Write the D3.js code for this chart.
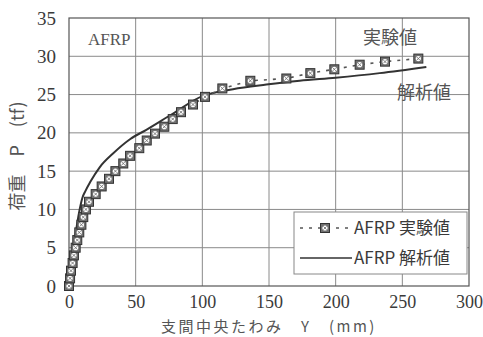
<!DOCTYPE html>
<html>
<head>
<meta charset="utf-8">
<script src="https://cdn.jsdelivr.net/npm/d3@7"></script>
<style>
  html, body { margin: 0; padding: 0; background: #fff; }
  svg { display: block; }
</style>
</head>
<body>
<svg id="chart" width="483" height="337"></svg>
<script>
// Measured load-deflection data for the AFRP-strengthened beam
const expDeflection = [0, 0.8, 1.5, 2.7, 3.7, 5.0, 6.2, 7.7, 9.3, 10.7, 12.7, 15, 20, 24.5, 30, 34.8,
  40.7, 45.8, 52.7, 58.3, 64.5, 71.5, 77.8, 84, 93, 102, 115, 136, 163, 181, 199, 218, 237, 262];
const expLoad = [0, 1, 2, 3, 4, 5, 6, 7, 8, 9, 10, 11, 12, 13, 14, 15,
  16, 17, 18, 19, 19.9, 20.8, 21.8, 22.7, 23.7, 24.7, 25.8, 26.8, 27.1, 27.8, 28.3, 28.9, 29.3, 29.7];

// Analytical curve
const anaDeflection = [0, 3.5, 8, 10, 12, 16, 23, 33, 46, 58, 76, 100, 123, 148, 173, 200, 233, 268];
const anaLoad = [0, 5, 10, 11.5, 12.3, 13.6, 15.5, 17.3, 19.2, 20.4, 22.3, 24.8, 25.7, 26.3, 26.8, 27.2, 27.8, 28.6];

const xTicks = [0, 50, 100, 150, 200, 250, 300];
const yTicks = [0, 5, 10, 15, 20, 25, 30, 35];

const serif = "Liberation Serif";
const cjk = "Noto Sans CJK JP";
const ink = "#3a3a3a";

const svg = d3.select("#chart");
const x = d3.scaleLinear().domain([0, 300]).range([69, 469]);
const y = d3.scaleLinear().domain([0, 35]).range([286, 18]);

// grid
const grid = svg.append("g").attr("stroke", "#8a8a8a").attr("stroke-width", 1);
grid.selectAll("line.v").data(xTicks.slice(1, -1)).join("line")
  .attr("x1", d => x(d)).attr("x2", d => x(d)).attr("y1", y(0)).attr("y2", y(35));
grid.selectAll("line.h").data(yTicks.slice(1, -1)).join("line")
  .attr("x1", x(0)).attr("x2", x(300)).attr("y1", d => y(d)).attr("y2", d => y(d));

// frame
svg.append("rect").attr("x", x(0)).attr("y", y(35))
  .attr("width", x(300) - x(0)).attr("height", y(0) - y(35))
  .attr("fill", "none").attr("stroke", "#555").attr("stroke-width", 1.2);

// axes
const xAxis = svg.append("g").attr("transform", `translate(0,${y(0)})`)
  .call(d3.axisBottom(x).tickValues(xTicks).tickSize(0).tickPadding(9));
const yAxis = svg.append("g").attr("transform", `translate(${x(0)},0)`)
  .call(d3.axisLeft(y).tickValues(yTicks).tickSize(0).tickPadding(13));
[xAxis, yAxis].forEach(g => {
  g.attr("font-family", serif).attr("font-size", 19);
  g.select(".domain").remove();
  g.selectAll("text").style("font-family", serif).attr("fill", ink);
});
xAxis.attr("font-size", 18);

// axis titles
svg.append("text")
  .attr("transform", `translate(24,156) rotate(-90)`)
  .attr("text-anchor", "middle").attr("font-family", cjk).attr("font-size", 18).attr("fill", "#555")
  .text("荷重　P　(tf)");
svg.append("text")
  .attr("x", 269).attr("y", 332)
  .attr("text-anchor", "middle").attr("font-family", cjk).attr("font-size", 15).attr("fill", "#555")
  .attr("letter-spacing", 2.5)
  .text("支間中央たわみ　Y　(mm)");

// analytical curve
const line = d3.line().x(d => x(d[0])).y(d => y(d[1]));
svg.append("path")
  .datum(anaDeflection.map((d, i) => [d, anaLoad[i]]))
  .attr("d", line.curve(d3.curveMonotoneX))
  .attr("fill", "none").attr("stroke", "#333").attr("stroke-width", 2);

// experimental dashed link + markers
const expPts = expDeflection.map((d, i) => [d, expLoad[i]]);
svg.append("path")
  .datum(expPts)
  .attr("d", d3.line().x(d => x(d[0])).y(d => y(d[1])))
  .attr("fill", "none").attr("stroke", "#555").attr("stroke-width", 1.6)
  .attr("stroke-dasharray", "3,6");

function marker(g) {
  g.append("rect").attr("x", -4.5).attr("y", -4.5).attr("width", 9).attr("height", 9)
    .attr("fill", "#707070").attr("stroke", "#333").attr("stroke-width", 1);
  g.append("circle").attr("r", 2.6).attr("fill", "#fff");
  g.append("path").attr("d", "M-1.6,-1.6L1.6,1.6M-1.6,1.6L1.6,-1.6")
    .attr("stroke", "#666").attr("stroke-width", 0.8);
}
svg.append("g").selectAll("g").data(expPts).join("g")
  .attr("transform", d => `translate(${x(d[0])},${y(d[1])})`)
  .each(function () { marker(d3.select(this)); });

// in-plot annotations
svg.append("text").attr("x", 88).attr("y", 45)
  .attr("font-family", serif).attr("font-size", 17).attr("fill", "#555").text("AFRP");
svg.append("text").attr("x", 363).attr("y", 44)
  .attr("font-family", cjk).attr("font-size", 18).attr("fill", "#555").text("実験値");
svg.append("text").attr("x", 397).attr("y", 99)
  .attr("font-family", cjk).attr("font-size", 18).attr("fill", "#555").text("解析値");

// legend
const lg = svg.append("g");
lg.append("rect").attr("x", 294).attr("y", 212).attr("width", 173).attr("height", 62)
  .attr("fill", "#fff").attr("stroke", "#888").attr("stroke-width", 1);
lg.append("line").attr("x1", 300).attr("x2", 352).attr("y1", 228).attr("y2", 228)
  .attr("stroke", "#555").attr("stroke-width", 1.6).attr("stroke-dasharray", "3,6");
marker(lg.append("g").attr("transform", "translate(325,228)"));
lg.append("line").attr("x1", 300).attr("x2", 352).attr("y1", 258).attr("y2", 258)
  .attr("stroke", "#333").attr("stroke-width", 1.6);
const legendLabels = ["AFRP 実験値", "AFRP 解析値"];
lg.selectAll("text").data(legendLabels).join("text")
  .attr("x", 354).attr("y", (d, i) => 234 + i * 30)
  .attr("font-family", cjk).attr("font-size", 17).attr("fill", ink)
  .text(d => d);
</script>
</body>
</html>
